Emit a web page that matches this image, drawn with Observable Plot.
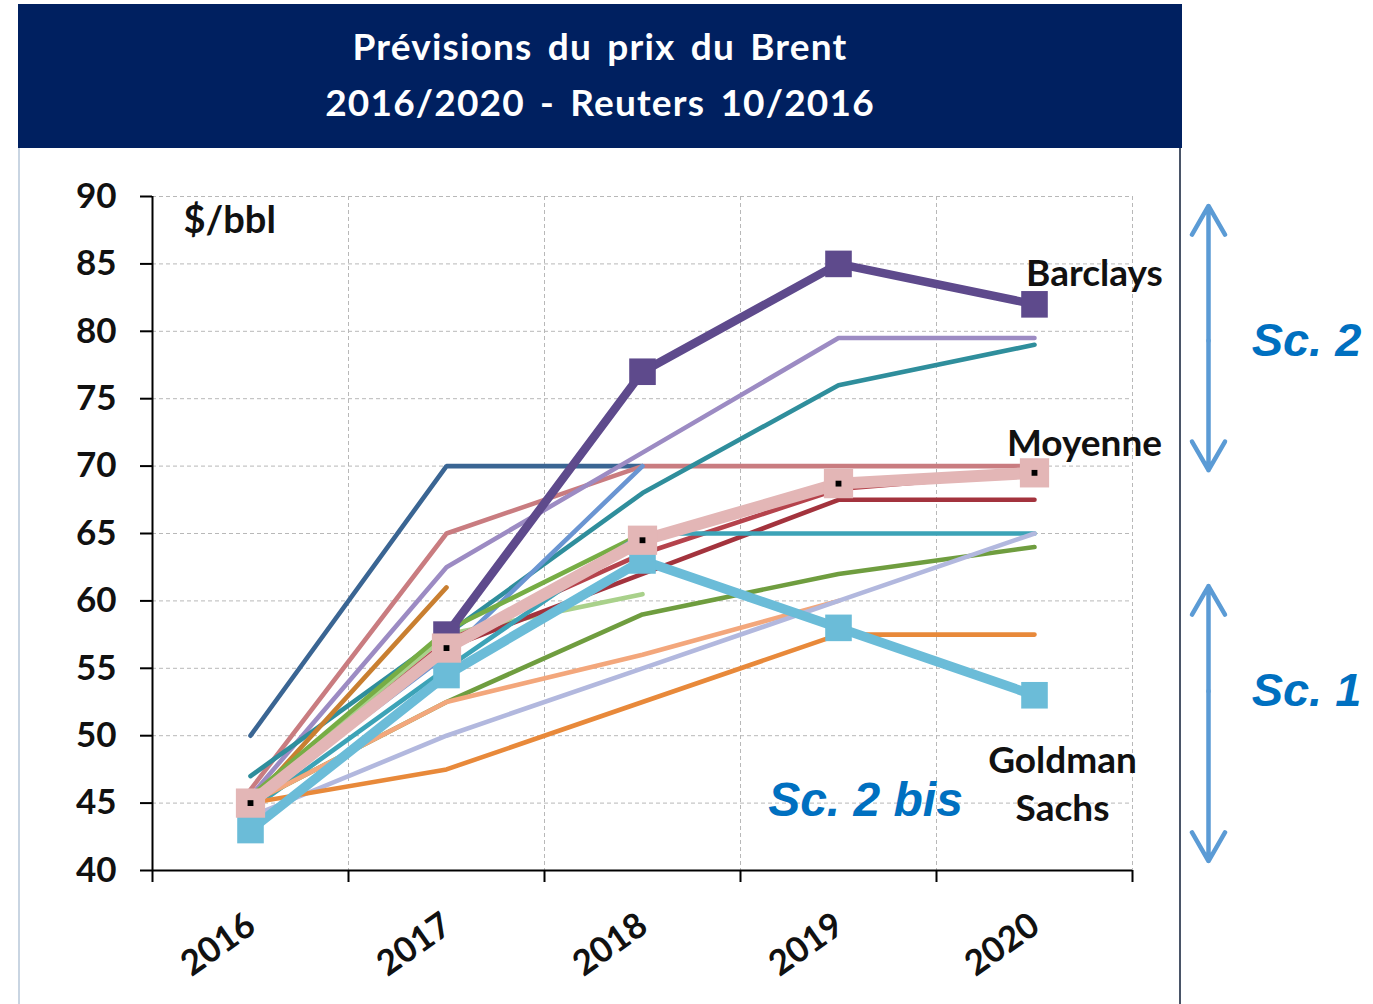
<!DOCTYPE html>
<html><head><meta charset="utf-8">
<script src="https://cdn.jsdelivr.net/npm/d3@7"></script>
<script src="https://cdn.jsdelivr.net/npm/@observablehq/plot@0.6"></script>
<style>
body{margin:0;background:#fff;width:1373px;height:1004px;overflow:hidden;position:relative;font-family:Lato,sans-serif}
#title{position:absolute;left:18px;top:4px;width:1164px;height:144px;background:#002060;color:#fff;font-weight:bold;font-size:37px;letter-spacing:1.2px;word-spacing:5px;text-align:center;line-height:56px;padding-top:14px;box-sizing:border-box;z-index:2}
#frame{position:absolute;left:18px;top:148px;width:1163px;height:856px;border-left:2px solid #c9d5e2;border-right:2px solid #4a5568;box-sizing:border-box;z-index:2;pointer-events:none}
#chart{position:absolute;left:0;top:148px}
</style>
</head><body>
<div id="title">Prévisions du prix du Brent<br>2016/2020 - Reuters 10/2016</div>
<div id="frame"></div>
<div id="chart"></div>
<script>
// ---- data ----
const years = [2016, 2017, 2018, 2019, 2020];
const yTicks = [40, 45, 50, 55, 60, 65, 70, 75, 80, 85, 90];
const bandEdges = [2015.5, 2016.5, 2017.5, 2018.5, 2019.5, 2020.5];

const barclays = [null, 57.5, 77, 85, 82];
const goldmanSachs = [43, 54.5, 63, 58, 53];
const moyenne = [45, 56.5, 64.5, 68.7, 69.5];

const darkBlue   = [50, 70, 70, null, null];
const rose       = [46, 65, 70, 70, 70];
const lavender   = [45.5, 62.5, 71, 79.5, 79.5];
const teal       = [47, 57.5, 68, 76, 79];
const midBlue    = [45, 56, 70, null, null];
const brown      = [45, 61, null, null, null];
const lightGreen = [45, 57.5, 60.5, null, null];
const green      = [45.5, 57.8, 65, null, null];
const darkRedA   = [45, 56.5, 62, 67.5, 67.5];
const darkRedB   = [45, 57, 63.5, 68.3, 69.5];
const tealFlat   = [44.5, 55, 65, 65, 65];
const olive      = [45, 52.5, 59, 62, 64];
const peach      = [45, 52.5, 56, 60, null];
const greyBlue   = [44, 50, 55, 60, 65];
const orange     = [45, 47.5, 52.5, 57.5, 57.5];

const thinSeries = {darkBlue, rose, lavender, teal, midBlue, brown, lightGreen, green, darkRedA, darkRedB, tealFlat, olive, peach, greyBlue, orange};
const thinColors = {darkBlue:"#3a6593", rose:"#c97c80", lavender:"#9c8bc3", teal:"#2f8e9c", midBlue:"#6a95d2", brown:"#c97f30", lightGreen:"#a9d18b", green:"#77ad45", darkRedA:"#a3333d", darkRedB:"#b5434c", tealFlat:"#3ca3b7", olive:"#6f9d3f", peach:"#f3a77c", greyBlue:"#b2b8de", orange:"#e8893a"};

const seriesLabels = [
  {name: "Barclays", values: barclays},
  {name: "Moyenne", values: moyenne},
  {name: "Goldman\nSachs", values: goldmanSachs}
];
// scenario annotations: label and value span of the double arrow
const scenarios = [
  {label: "Sc. 2", hi: 89.3, lo: 69.7, mid: 79.3},
  {label: "Sc. 1", hi: 61.1, lo: 40.7, mid: 53.3}
];
const scenario2bis = [{label: "Sc. 2 bis", year: 2019, value: 45.2}];

// ---- tidy ----
const toRows = (name, arr) => arr.map((v, i) => ({name, year: years[i], value: v})).filter(d => d.value != null);
const thinRows = Object.entries(thinSeries).flatMap(([k, arr]) => toRows(k, arr));
const barRows = toRows("Barclays", barclays);
const gsRows = toRows("Goldman Sachs", goldmanSachs);
const moyRows = toRows("Moyenne", moyenne);
const lastOf = s => { const i = s.values.length - 1; return {name: s.name, year: years[i], value: s.values[i]}; };
const labelRows = seriesLabels.map(lastOf);
const labelOffsets = {"Barclays": [60, -34], "Moyenne": [50, -32], "Goldman\nSachs": [28, 86]};

const arrowColor = "#5b9bd5";
const arrowRows = scenarios.flatMap(s => [
  {x: 2020, y1: s.mid, y2: s.hi}, {x: 2020, y1: s.mid, y2: s.lo}
]);

const plot = Plot.plot({
  width: 1373, height: 856,
  marginTop: 48, marginBottom: 134, marginLeft: 152, marginRight: 241,
  style: {fontFamily: "Lato, sans-serif", fontSize: "36px", fontWeight: "bold", color: "#000", background: "transparent", overflow: "visible"},
  x: {type: "linear", domain: [2015.5, 2020.5]},
  y: {domain: [40, 90]},
  marks: [
    Plot.gridY(yTicks.filter(t => t > 40), {stroke: "#b8b8b8", strokeOpacity: 1, strokeDasharray: "4,3", strokeWidth: 1}),
    Plot.gridX(bandEdges.slice(1), {stroke: "#b8b8b8", strokeOpacity: 1, strokeDasharray: "4,3", strokeWidth: 1}),
    Plot.axisY({ticks: yTicks, tickSize: 12, tickPadding: 24, tickFormat: d => String(d), stroke: "#000", strokeWidth: 2, fontSize: 35, fontWeight: "bold", fill: "#111"}),
    Plot.axisX({ticks: bandEdges, tickSize: 12, tickFormat: () => "", stroke: "#000", strokeWidth: 2}),
    Plot.ruleX([2015.5], {y1: 90, y2: 40, stroke: "#000", strokeWidth: 2}),
    Plot.ruleY([40], {x1: 2015.5, x2: 2020.5, stroke: "#000", strokeWidth: 2}),
    Plot.text(years, {x: d => d, y: 40, text: d => String(d), rotate: -35, textAnchor: "end", lineAnchor: "middle", dx: 1, dy: 51, fontSize: 35, fontWeight: "bold", fill: "#111"}),
    Plot.text(["$/bbl"], {x: 2015.5, y: 90, text: d => d, textAnchor: "start", dx: 31, dy: 24, fontSize: 38, fontWeight: "bold", fill: "#111"}),
    // thin forecasts
    Plot.line(thinRows, {x: "year", y: "value", z: "name", stroke: d => thinColors[d.name], strokeWidth: 4.6, strokeLinejoin: "miter"}),
    // Barclays
    Plot.line(barRows, {x: "year", y: "value", stroke: "#5e4a8c", strokeWidth: 8.5}),
    Plot.dot(barRows, {x: "year", y: "value", symbol: "square", r: 15, fill: "#5e4a8c"}),
    // Goldman Sachs
    Plot.line(gsRows, {x: "year", y: "value", stroke: "#6bbcd8", strokeWidth: 9.5}),
    Plot.dot(gsRows, {x: "year", y: "value", symbol: "square", r: 15, fill: "#6bbcd8"}),
    // Moyenne
    Plot.line(moyRows, {x: "year", y: "value", stroke: "#e3b6b6", strokeWidth: 12}),
    Plot.dot(moyRows, {x: "year", y: "value", symbol: "square", r: 16.5, fill: "#e3b6b6"}),
    Plot.dot(moyRows, {x: "year", y: "value", symbol: "square", r: 3.3, fill: "#000"}),
    // series labels
    Plot.text(labelRows, {x: "year", y: "value", text: "name", fontSize: 37, fontWeight: "bold", fill: "#111", lineHeight: 1.3,
      render: (index, scales, values, dims, ctx, next) => {
        const g = next(index, scales, values, dims, ctx);
        d3.select(g).selectAll("text").each(function(_, j) {
          const d = labelRows[index[j]];
          const [ox, oy] = labelOffsets[d.name];
          const t = d3.select(this); const tr = t.attr("transform") || "";
          t.attr("transform", tr + ` translate(${ox},${oy})`);
        });
        return g;
      }}),
    // scenario arrows and labels
    Plot.arrow(arrowRows, {x1: "x", x2: "x", y1: "y1", y2: "y2", dx: 174, stroke: arrowColor, strokeWidth: 4.5, headLength: 11, headAngle: 60}),
    Plot.text(scenarios, {x: () => 2020, y: "mid", text: "label", dx: 272, fontSize: 47, fontStyle: "italic", fontWeight: "bold", fontFamily: "Liberation Sans, Arial, sans-serif", fill: "#0070c0"}),
    Plot.text(scenario2bis, {x: "year", y: "value", text: "label", dx: 27, fontSize: 48, fontStyle: "italic", fontWeight: "bold", fontFamily: "Liberation Sans, Arial, sans-serif", fill: "#0070c0"})
  ]
});
document.getElementById("chart").appendChild(plot);
</script>
</body></html>
